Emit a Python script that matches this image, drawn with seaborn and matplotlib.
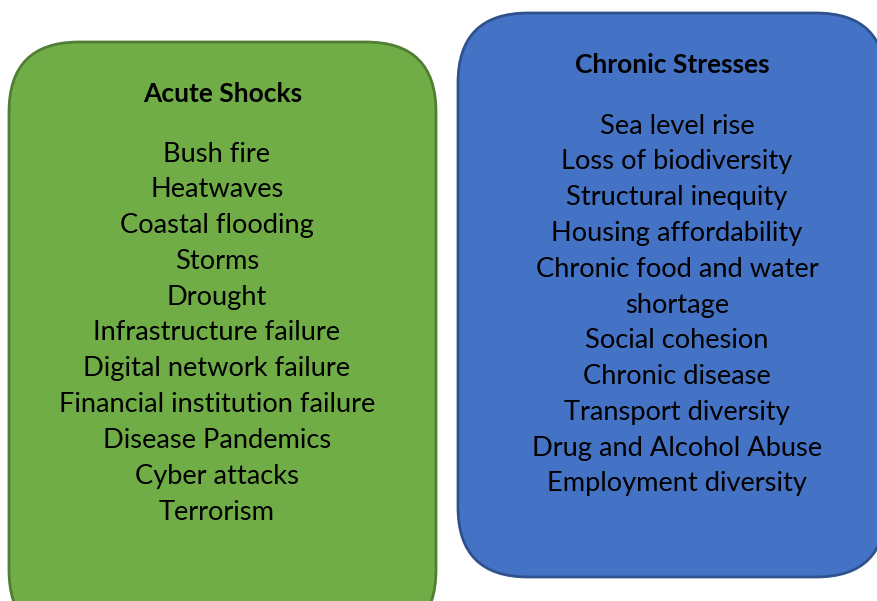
import matplotlib
matplotlib.use("Agg")
import matplotlib.pyplot as plt
import seaborn as sns
from matplotlib.patches import FancyBboxPatch

sns.set_theme(style="white")
plt.rcParams['font.family'] = ['Lato', 'DejaVu Sans']

acute_title = "Acute Shocks"
acute_items = ["Bush fire", "Heatwaves", "Coastal flooding", "Storms", "Drought",
               "Infrastructure failure", "Digital network failure",
               "Financial institution failure", "Disease Pandemics",
               "Cyber attacks", "Terrorism"]

chronic_title = "Chronic Stresses"
chronic_items = ["Sea level rise", "Loss of biodiversity", "Structural inequity",
                 "Housing affordability", "Chronic food and water", "shortage",
                 "Social cohesion", "Chronic disease", "Transport diversity",
                 "Drug and Alcohol Abuse", "Employment diversity"]

W, H = 878, 601
fig = plt.figure(figsize=(W / 100, H / 100), dpi=100)
ax = fig.add_axes([0, 0, 1, 1])
ax.set_xlim(0, W)
ax.set_ylim(H, 0)
ax.axis("off")


def draw_box(x0, y0, x1, y1, face, edge, title, items, title_x, cx, title_y, first_y, step):
    box = FancyBboxPatch((x0, y0), x1 - x0, y1 - y0,
                         boxstyle="round,pad=0,rounding_size=70",
                         facecolor=face, edgecolor=edge, linewidth=2)
    ax.add_patch(box)
    ax.text(title_x, title_y, title, ha="center", va="center", fontsize=19,
            fontweight="bold", color="black")
    for i, item in enumerate(items):
        ax.text(cx, first_y + i * step, item, ha="center", va="center",
                fontsize=19.6, color="black")


draw_box(9, 42, 436, 640, "#70AD47", "#507E32", acute_title, acute_items,
         223, 217, 94, 154, 35.8)
draw_box(458, 13, 886, 577, "#4472C4", "#2F528F", chronic_title, chronic_items,
         672, 677, 65, 126, 35.8)

fig.savefig("out.png", dpi=100)
